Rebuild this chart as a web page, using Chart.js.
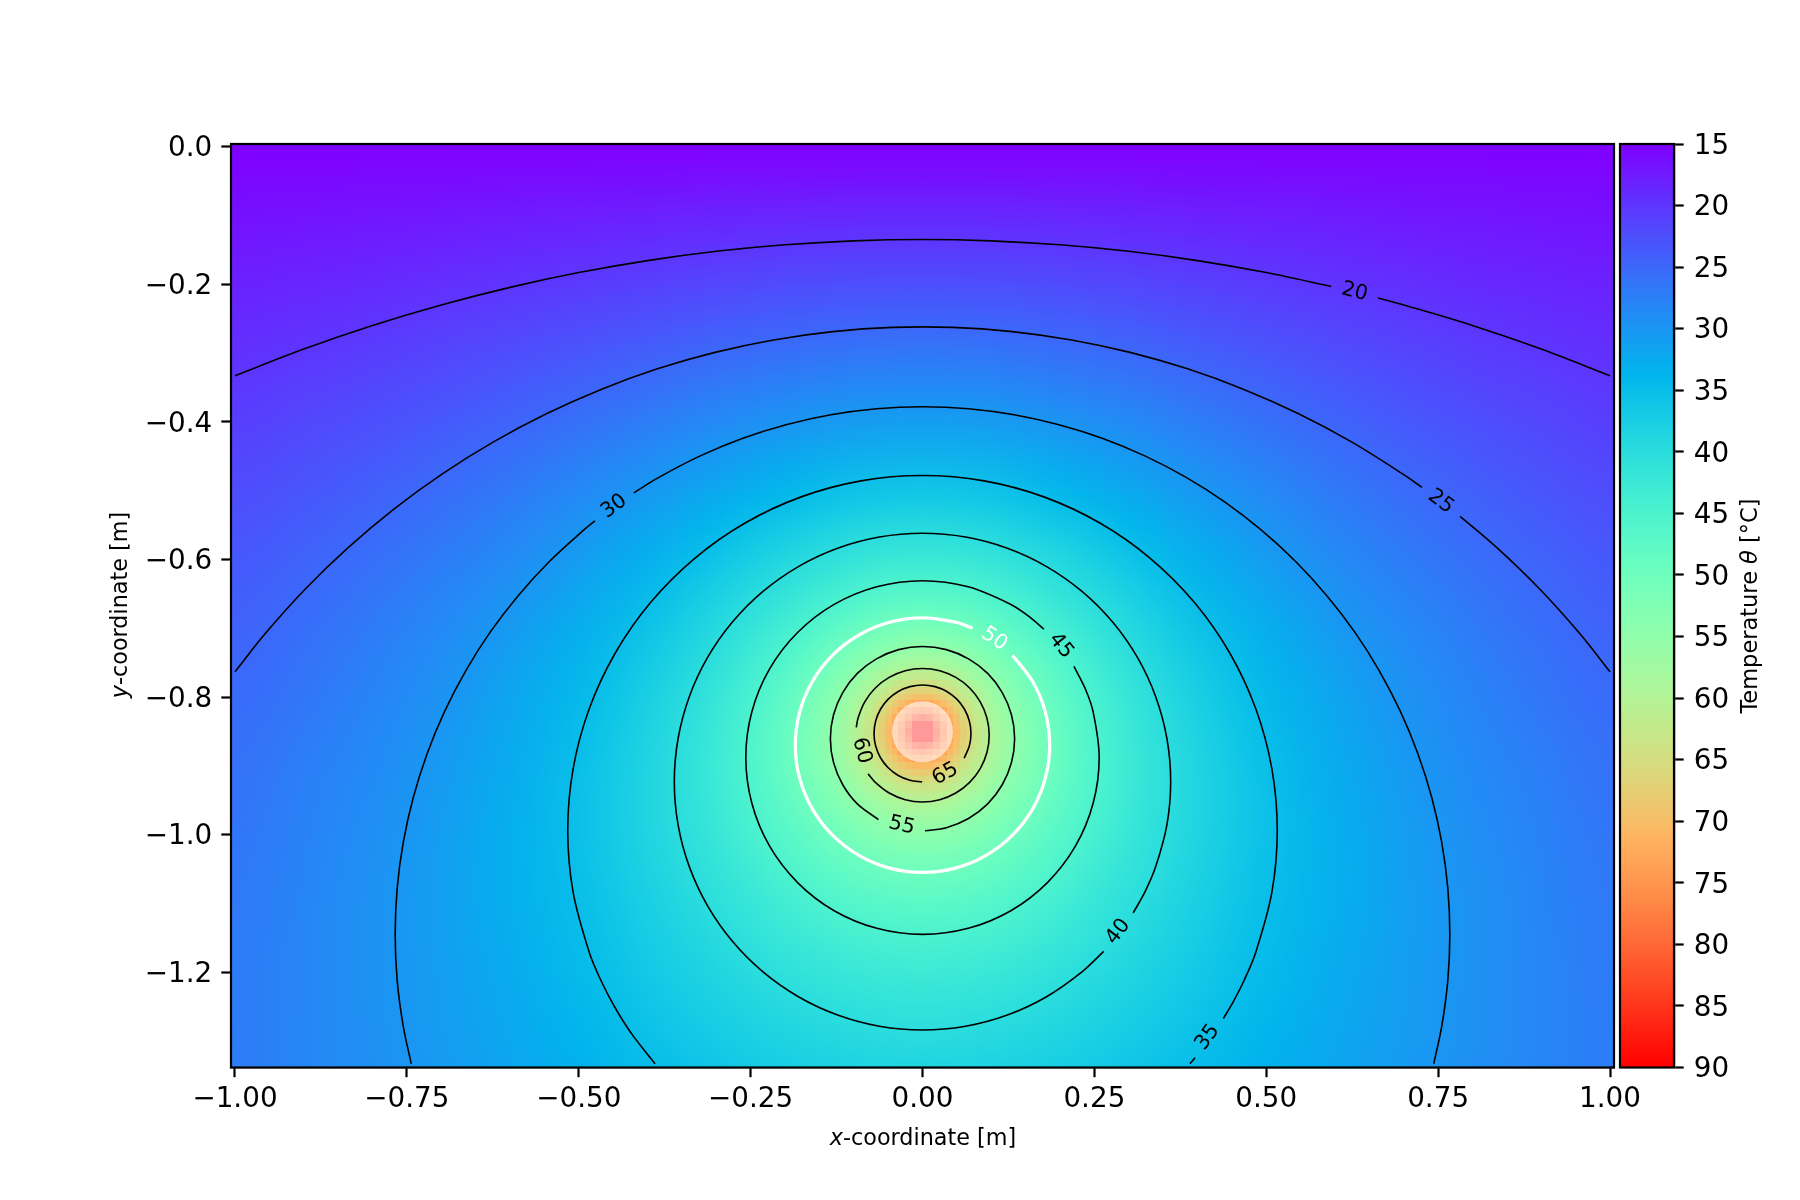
<!DOCTYPE html>
<html><head><meta charset="utf-8">
<style>html,body{margin:0;padding:0;background:#fff}canvas{position:absolute;left:0;top:0}</style>
<script src="https://cdn.jsdelivr.net/npm/chart.js@4/dist/chart.umd.min.js"></script>
</head><body>
<canvas id="main" width="1800" height="1200"></canvas>
<canvas id="cbar" width="1800" height="1200"></canvas>
<script>
// ---- axis ticks ----
const xTicks=[-1,-0.75,-0.5,-0.25,0,0.25,0.5,0.75,1];
const yTicks=[0,-0.2,-0.4,-0.6,-0.8,-1.0,-1.2];
const cbarTicks=[15,20,25,30,35,40,45,50,55,60,65,70,75,80,85,90];
const cbarRange=[15,90];
// ---- temperature estimates, column x>=0 only (field mirrors about x=0) ----
const coarseX=[0,0.1,0.2,0.3,0.4,0.5,0.6,0.7,0.8,0.9,1.0];
const coarseY=[0,-0.1,-0.2,-0.3,-0.4,-0.5,-0.6,-0.7,-0.8,-0.9,-1.0,-1.1,-1.2,-1.3,-1.4];
const coarseT=[
[15,15,15,15,15,15,15,15,15,15,15],
[18.7,18.7,18.5,18.3,18.0,17.7,17.5,17.2,17.0,16.7,16.5],
[22.5,22.4,22.1,21.6,21.1,20.5,19.9,19.4,18.9,18.5,18.1],
[26.6,26.4,25.8,25.1,24.1,23.2,22.3,21.5,20.8,20.1,19.5],
[31.0,30.7,29.8,28.6,27.2,25.9,24.6,23.5,22.5,21.7,20.9],
[36.2,35.6,34.1,32.2,30.3,28.5,26.8,25.4,24.2,23.1,22.2],
[42.6,41.5,38.9,35.9,33.2,30.8,28.8,27.1,25.7,24.5,23.4],
[51.7,48.8,43.8,39.3,35.7,32.9,30.5,28.6,27.0,25.6,24.4],
[69.9,57.3,47.8,41.8,37.6,34.4,31.8,29.7,28.0,26.5,25.3],
[70.8,58.2,48.7,42.7,38.4,35.2,32.6,30.5,28.7,27.3,26.0],
[54.4,51.6,46.5,42.0,38.4,35.4,33.0,31.0,29.2,27.8,26.5],
[47.2,46.1,43.4,40.4,37.6,35.1,33.0,31.1,29.5,28.1,26.8],
[42.8,42.2,40.6,38.6,36.5,34.5,32.6,31.0,29.5,28.2,27.0],
[39.6,39.2,38.2,36.8,35.3,33.7,32.1,30.7,29.4,28.2,27.1],
[37.1,36.9,36.2,35.2,34.0,32.8,31.5,30.3,29.1,28.1,27.1]];
const midX=[0,0.05,0.1,0.15,0.2,0.25,0.3,0.35];
const midY=[-0.5,-0.55,-0.6,-0.65,-0.7,-0.75,-0.8,-0.85,-0.9,-0.95,-1.0,-1.05,-1.1,-1.15,-1.2];
const midT=[
[36.2,36.0,35.6,35.0,34.1,33.2,32.3,31.3],
[39.2,39.0,38.4,37.5,36.4,35.3,34.1,32.9],
[42.6,42.3,41.5,40.3,38.9,37.4,35.9,34.5],
[46.6,46.2,44.9,43.2,41.3,39.5,37.7,36.1],
[51.7,50.8,48.8,46.3,43.8,41.4,39.3,37.4],
[58.5,56.8,53.1,49.4,46.0,43.2,40.7,38.6],
[69.9,64.5,57.3,51.9,47.8,44.5,41.8,39.5],
[90,70.4,59.5,53.2,48.7,45.3,42.5,40.1],
[70.8,65.4,58.2,52.8,48.7,45.4,42.7,40.4],
[60.4,58.6,55.0,51.2,47.8,45.0,42.5,40.4],
[54.4,53.6,51.6,49.1,46.5,44.2,42.0,40.1],
[50.4,49.9,48.6,46.9,45.0,43.1,41.3,39.6],
[47.2,46.9,46.1,44.9,43.4,41.9,40.4,39.0],
[44.8,44.6,44.0,43.1,42.0,40.8,39.5,38.3],
[42.8,42.6,42.2,41.5,40.6,39.6,38.6,37.5]];
const nearX=[0,0.02,0.04,0.06,0.08,0.1,0.12,0.14];
const nearY=[-0.71,-0.73,-0.75,-0.77,-0.79,-0.81,-0.83,-0.85,-0.87,-0.89,-0.91,-0.93,-0.95,-0.97,-0.99];
const nearT=[
[52.8,52.7,52.2,51.5,50.6,49.6,48.5,47.4],
[55.5,55.3,54.6,53.7,52.6,51.3,50.0,48.7],
[58.5,58.2,57.4,56.1,54.6,53.1,51.5,50.0],
[62.2,61.8,60.5,58.7,56.8,54.8,53.0,51.2],
[67.0,66.1,64.1,61.5,58.9,56.5,54.3,52.3],
[73.4,71.7,68.0,64.2,60.8,57.9,55.3,53.1],
[84.5,79.1,71.9,66.4,62.3,58.9,56.2,53.8],
[90,84.7,73.8,67.5,62.9,59.4,56.6,54.1],
[84.9,79.5,72.3,66.8,62.7,59.3,56.6,54.2],
[74.2,72.5,68.8,65.0,61.6,58.7,56.1,53.9],
[68.0,67.1,65.1,62.5,59.9,57.5,55.3,53.3],
[63.6,63.2,61.9,60.1,58.2,56.2,54.4,52.6],
[60.3,60.0,59.2,57.9,56.4,54.9,53.3,51.8],
[57.7,57.5,56.8,55.9,54.8,53.5,52.2,50.9],
[55.4,55.3,54.8,54.1,53.2,52.2,51.1,50.0]];
const coreX=[0,0.01,0.02,0.03,0.04,0.05,0.06,0.07,0.08];
const coreY=[-0.77,-0.78,-0.79,-0.8,-0.81,-0.82,-0.83,-0.84,-0.85,-0.86,-0.87,-0.88,-0.89,-0.9,-0.91,-0.92,-0.93];
const coreT=[
[62.2,62.1,61.8,61.2,60.5,59.7,58.7,57.8,56.8],
[64.4,64.3,63.8,63.1,62.2,61.2,60.1,59.0,57.9],
[67.0,66.8,66.1,65.2,64.1,62.8,61.5,60.2,58.9],
[69.8,69.5,68.7,67.4,65.9,64.4,62.8,61.3,59.9],
[73.4,73.0,71.7,69.9,68.0,66.0,64.2,62.4,60.8],
[78.1,77.2,75.2,72.6,70.0,67.6,65.4,63.4,61.6],
[84.5,82.8,79.1,75.3,71.9,69.0,66.4,64.2,62.3],
[95.5,90.1,82.9,77.4,73.3,69.9,67.2,64.8,62.7],
[100,95.6,84.7,78.4,73.8,70.3,67.5,65.0,62.9],
[95.7,90.3,83.1,77.6,73.5,70.1,67.4,65.0,62.9],
[84.9,83.2,79.5,75.7,72.3,69.4,66.8,64.6,62.7],
[78.7,77.8,75.8,73.2,70.6,68.2,66.0,64.0,62.2],
[74.2,73.8,72.5,70.7,68.8,66.8,65.0,63.2,61.6],
[70.8,70.5,69.7,68.4,66.9,65.4,63.8,62.3,60.9],
[68.1,67.9,67.2,66.3,65.2,63.9,62.6,61.3,60.0],
[65.7,65.6,65.1,64.4,63.5,62.5,61.4,60.3,59.2],
[63.7,63.6,63.3,62.7,62.0,61.2,60.2,59.3,58.3]];
// ---- contour arcs, [x,y] ----
const contour20a=[[-1,-0.3331],[-0.9,-0.2943],[-0.8,-0.26],[-0.7,-0.2302],[-0.6,-0.2046],[-0.5,-0.1831],[-0.4,-0.1657],[-0.3,-0.1522],[-0.2,-0.1427],[-0.1,-0.137],[0,-0.135],[0.1,-0.137],[0.2,-0.1427],[0.3,-0.1522],[0.4,-0.1657],[0.5,-0.1831],[0.5945,-0.2033]];
const contour20b=[[0.6625,-0.2201],[0.7,-0.2302],[0.8,-0.26],[0.9,-0.2943],[1,-0.3331]];
const contour25a=[[-1,-0.7633],[-0.956,-0.7078],[-0.8977,-0.643],[-0.835,-0.5826],[-0.7684,-0.5266],[-0.6979,-0.4754],[-0.624,-0.4292],[-0.5471,-0.3883],[-0.4675,-0.3529],[-0.3856,-0.323],[-0.3019,-0.2991],[-0.2167,-0.281],[-0.1304,-0.2689],[-0.0436,-0.2628],[0.0436,-0.2628],[0.1304,-0.2689],[0.2167,-0.281],[0.3019,-0.2991],[0.3856,-0.323],[0.4675,-0.3529],[0.5471,-0.3883],[0.624,-0.4292],[0.6979,-0.4754],[0.7265,-0.4953]];
const contour25b=[[0.782,-0.5374],[0.835,-0.5826],[0.8977,-0.643],[0.956,-0.7078],[1,-0.7633]];
const contour30a=[[-0.7436,-1.333],[-0.7553,-1.2782],[-0.7641,-1.2119],[-0.767,-1.145],[-0.7641,-1.0781],[-0.7553,-1.0118],[-0.7408,-0.9465],[-0.7207,-0.8827],[-0.6951,-0.8209],[-0.6642,-0.7615],[-0.6283,-0.705],[-0.5875,-0.652],[-0.5424,-0.6027],[-0.493,-0.5575],[-0.4764,-0.5439]];
const contour30b=[[-0.42,-0.5032],[-0.3835,-0.4808],[-0.3241,-0.4499],[-0.2623,-0.4242],[-0.1985,-0.4042],[-0.1332,-0.3897],[-0.0669,-0.3809],[0,-0.378],[0.0669,-0.3809],[0.1332,-0.3897],[0.1985,-0.4042],[0.2623,-0.4242],[0.3241,-0.4499],[0.3835,-0.4808],[0.44,-0.5167],[0.493,-0.5575],[0.5424,-0.6027],[0.5875,-0.652],[0.6283,-0.705],[0.6642,-0.7615],[0.6951,-0.8209],[0.7207,-0.8827],[0.7408,-0.9465],[0.7553,-1.0118],[0.7641,-1.0781],[0.767,-1.145],[0.7641,-1.2119],[0.7553,-1.2782],[0.7436,-1.333]];
const contour35a=[[-0.389,-1.333],[-0.4227,-1.29],[-0.4469,-1.252],[-0.4677,-1.2121],[-0.4849,-1.1705],[-0.5082,-1.0836],[-0.516,-0.994],[-0.5082,-0.9044],[-0.4849,-0.8175],[-0.4469,-0.736],[-0.3953,-0.6623],[-0.3317,-0.5987],[-0.258,-0.5471],[-0.1765,-0.5091],[-0.0896,-0.4858],[0,-0.478],[0.0896,-0.4858],[0.1765,-0.5091],[0.258,-0.5471],[0.3317,-0.5987],[0.3953,-0.6623],[0.4469,-0.736],[0.4849,-0.8175],[0.5082,-0.9044],[0.516,-0.994],[0.5082,-1.0836],[0.4849,-1.1705],[0.4677,-1.2121],[0.4513,-1.2442],[0.4376,-1.2674]];
const contour35b=[[0.3964,-1.3243],[0.389,-1.333]];
const contour40=[[0.2635,-1.1698],[0.232,-1.1995],[0.1805,-1.2356],[0.1235,-1.2622],[0.0627,-1.2785],[0,-1.284],[-0.0627,-1.2785],[-0.1235,-1.2622],[-0.1805,-1.2356],[-0.232,-1.1995],[-0.2765,-1.155],[-0.3126,-1.1035],[-0.3392,-1.0465],[-0.3555,-0.9857],[-0.361,-0.923],[-0.3555,-0.8603],[-0.3392,-0.7995],[-0.3126,-0.7425],[-0.2765,-0.691],[-0.232,-0.6465],[-0.1805,-0.6104],[-0.1235,-0.5838],[-0.0627,-0.5675],[0,-0.562],[0.0627,-0.5675],[0.1235,-0.5838],[0.1805,-0.6104],[0.232,-0.6465],[0.2765,-0.691],[0.3126,-0.7425],[0.3392,-0.7995],[0.3555,-0.8603],[0.361,-0.923],[0.3555,-0.9857],[0.3392,-1.0465],[0.3245,-1.0813],[0.3065,-1.1138]];
const contour45=[[0.2203,-0.7556],[0.2366,-0.7876],[0.2482,-0.8215],[0.257,-0.888],[0.2482,-0.9545],[0.2226,-1.0165],[0.1817,-1.0697],[0.1285,-1.1106],[0.0665,-1.1362],[0,-1.145],[-0.0665,-1.1362],[-0.1285,-1.1106],[-0.1817,-1.0697],[-0.2226,-1.0165],[-0.2482,-0.9545],[-0.257,-0.888],[-0.2482,-0.8215],[-0.2226,-0.7595],[-0.1817,-0.7063],[-0.1285,-0.6654],[-0.0665,-0.6398],[0,-0.631],[0.0665,-0.6398],[0.1285,-0.6654],[0.1547,-0.6828],[0.1766,-0.7013]];
const contour50=[[0.1308,-0.7392],[0.1602,-0.7775],[0.1787,-0.8221],[0.185,-0.87],[0.1787,-0.9179],[0.1602,-0.9625],[0.1308,-1.0008],[0.0925,-1.0302],[0.0479,-1.0487],[0,-1.055],[-0.0479,-1.0487],[-0.0925,-1.0302],[-0.1308,-1.0008],[-0.1602,-0.9625],[-0.1787,-0.9179],[-0.185,-0.87],[-0.1787,-0.8221],[-0.1602,-0.7775],[-0.1308,-0.7392],[-0.0925,-0.7098],[-0.0479,-0.6913],[0,-0.685],[0.0479,-0.6913],[0.0729,-0.70]];
const contour55=[[-0.0641,-0.9782],[-0.0948,-0.9553],[-0.116,-0.9275],[-0.1294,-0.8952],[-0.134,-0.8605],[-0.1294,-0.8258],[-0.116,-0.7935],[-0.0948,-0.7657],[-0.067,-0.7445],[-0.0347,-0.7311],[0,-0.7265],[0.0347,-0.7311],[0.067,-0.7445],[0.0948,-0.7657],[0.116,-0.7935],[0.1294,-0.8258],[0.134,-0.8605],[0.1294,-0.8952],[0.116,-0.9275],[0.0948,-0.9553],[0.067,-0.9765],[0.0347,-0.9899],[0.0037,-0.9944]];
const contour60=[[-0.0963,-0.844],[-0.0937,-0.8304],[-0.084,-0.807],[-0.0686,-0.7869],[-0.0485,-0.7715],[-0.0251,-0.7618],[0,-0.7585],[0.0251,-0.7618],[0.0485,-0.7715],[0.0686,-0.7869],[0.084,-0.807],[0.0937,-0.8304],[0.097,-0.8555],[0.0937,-0.8806],[0.084,-0.904],[0.0686,-0.9241],[0.0485,-0.9395],[0.0251,-0.9492],[0,-0.9525],[-0.0251,-0.9492],[-0.0485,-0.9395],[-0.0686,-0.9241],[-0.0791,-0.9117]];
const contour65=[[-0.0005,-0.9235],[-0.0182,-0.9211],[-0.0353,-0.9141],[-0.0499,-0.9029],[-0.0611,-0.8883],[-0.0681,-0.8712],[-0.0705,-0.853],[-0.0681,-0.8348],[-0.0611,-0.8178],[-0.0499,-0.8031],[-0.0353,-0.7919],[-0.0182,-0.7849],[0,-0.7825],[0.0182,-0.7849],[0.0353,-0.7919],[0.0499,-0.8031],[0.0611,-0.8178],[0.0681,-0.8348],[0.0705,-0.853],[0.0681,-0.8712],[0.0606,-0.889]];
// contour labels: text, x, y, rotation in degrees
const contourLabels=[["20",0.6285,-0.2113,13.9],["25",0.7538,-0.516,37.2],["30",-0.4484,-0.523,-35.8],["35",0.4148,-1.2946,-54.1],["40",0.2846,-1.1412,-52.5],["45",0.2012,-0.7258,51.2],["50",0.1043,-0.7158,34.1],["55",-0.0303,-0.9869,13.5],["60",-0.0884,-0.878,75.7],["65",0.0332,-0.9119,-29.4]];
const sourceDisc=[[0,-0.8505]];

const FONT='"DejaVu Sans"';
const mirrorRow=r=>[...r.slice(1).reverse(),...r];
const mirrorX=a=>[...a.slice(1).reverse().map(v=>-v),...a];
const cmap=v=>{const t=Math.min(1,Math.max(0,(v-15)/75));return [Math.min(1,Math.abs(2*t-0.5))*255,Math.sin(Math.PI*t)*255,Math.cos(Math.PI*t/2)*255];};
const css=c=>`rgb(${c.map(Math.round).join(',')})`;
const heatLayers=[
 {xs:coarseX,ys:coarseY,t:coarseT,base:true},
 {xs:midX,ys:midY,t:midT},
 {xs:nearX,ys:nearY,t:nearT},
 {xs:coreX,ys:coreY,t:coreT,pixel:true}];
const heatPlugin={id:'heat',beforeDatasetsDraw(chart){
 const {ctx,chartArea:a,scales:{x,y}}=chart;
 ctx.save();ctx.beginPath();ctx.rect(a.left,a.top,a.right-a.left,a.bottom-a.top);ctx.clip();
 for(const L of heatLayers){
  const xs=mirrorX(L.xs),rows=L.t.map(mirrorRow),nx=xs.length,ny=L.ys.length;
  const off=document.createElement('canvas');off.width=nx;off.height=ny;
  const oc=off.getContext('2d'),img=oc.createImageData(nx,ny);
  rows.forEach((r,j)=>r.forEach((v,i)=>{const c=cmap(v),k=4*(j*nx+i);img.data[k]=c[0];img.data[k+1]=c[1];img.data[k+2]=c[2];img.data[k+3]=255;}));
  oc.putImageData(img,0,0);
  const x0=x.getPixelForValue(xs[0]),x1=x.getPixelForValue(xs[nx-1]),y0=y.getPixelForValue(L.ys[0]),y1=y.getPixelForValue(L.ys[ny-1]);
  const dx=(x1-x0)/(nx-1),dy=(y1-y0)/(ny-1);
  ctx.save();
  if(!L.base&&!L.pixel){ctx.beginPath();ctx.rect(x0,y0,x1-x0,y1-y0);ctx.clip();}
  ctx.imageSmoothingEnabled=!L.pixel;ctx.imageSmoothingQuality='high';
  ctx.drawImage(off,x0-dx/2,y0-dy/2,dx*nx,dy*ny);
  ctx.restore();
 }
 ctx.restore();
}};
const framePlugin={id:'frame',afterDraw(chart){
 const {ctx,chartArea:a}=chart;ctx.save();ctx.strokeStyle='#000';ctx.lineWidth=2.2;
 ctx.strokeRect(a.left,a.top,a.right-a.left,a.bottom-a.top);ctx.restore();
}};
const drawMixed=(ctx,cx,cy,rot,parts,size)=>{
 ctx.save();ctx.translate(cx,cy);ctx.rotate(rot);ctx.textBaseline='middle';ctx.textAlign='left';ctx.fillStyle='#000';
 let w=0;for(const p of parts){ctx.font=`${p[1]?'italic ':''}${size}px ${FONT}`;w+=ctx.measureText(p[0]).width;}
 let pos=-w/2;for(const p of parts){ctx.font=`${p[1]?'italic ':''}${size}px ${FONT}`;ctx.fillText(p[0],pos,0);pos+=ctx.measureText(p[0]).width;}
 ctx.restore();
};
const labelPlugin={id:'labels',afterDatasetsDraw(chart){
 const {ctx,scales:{x,y}}=chart;
 ctx.save();ctx.font=`20.6px ${FONT}`;ctx.textAlign='center';ctx.textBaseline='middle';
 for(const [s,vx,vy,rot] of contourLabels){
  ctx.save();ctx.translate(x.getPixelForValue(vx),y.getPixelForValue(vy));ctx.rotate(rot*Math.PI/180);
  ctx.fillStyle=s==='50'?'#fff':'#000';ctx.fillText(s,0,0);ctx.restore();
 }
 ctx.restore();
 drawMixed(ctx,923,1139,0,[['x',true],['-coordinate [m]',false]],22.3);
 drawMixed(ctx,121,605,-Math.PI/2,[['y',true],['-coordinate [m]',false]],22.3);
}};
const line=(arc,color='#000',w=1.6)=>({type:'scatter',showLine:true,data:arc.map(p=>({x:p[0],y:p[1]})),borderColor:color,borderWidth:w,pointRadius:0,tension:0.335,fill:false});
const fmtX=v=>(v<0?'\u2212':'')+Math.abs(v).toFixed(2);
const fmtY=v=>(v<-1e-9?'\u2212':'')+Math.abs(v).toFixed(1);
const axis=(ticks,fmt,pad,lab,extra)=>Object.assign({type:'linear',
 afterBuildTicks:s=>{s.ticks=ticks.map(v=>({value:v}));},
 grid:{drawOnChartArea:false,drawTicks:true,tickLength:9.7,tickWidth:2.2,tickColor:'#000'},
 border:{display:true,color:'#000',width:2.2},
 ticks:{callback:fmt,autoSkip:false,maxRotation:0,minRotation:0,padding:pad,labelOffset:lab,color:'#000',font:{family:'DejaVu Sans',size:27.8}}},extra);

new Chart(document.getElementById('main'),{
 type:'scatter',
 data:{datasets:[
  {type:'scatter',data:sourceDisc.map(p=>({x:p[0],y:p[1]})),pointRadius:30.5,pointBackgroundColor:'rgba(255,255,255,0.6)',pointBorderWidth:0,showLine:false},
  line(contour20a),line(contour20b),line(contour25a),line(contour25b),line(contour30a),line(contour30b),
  line(contour35a),line(contour35b),line(contour40),line(contour45),line(contour50,'#fff',3.3),
  line(contour55),line(contour60),line(contour65)]},
 options:{responsive:false,animation:false,devicePixelRatio:1,
  layout:{padding:{left:0,top:144,right:186,bottom:0}},
  plugins:{legend:{display:false},tooltip:{enabled:false}},
  scales:{
   x:axis(xTicks,fmtX,6,0,{min:-1.0058,max:1.0058,position:'bottom',afterFit:s=>{s.height=132.5;}}),
   y:axis(yTicks,fmtY,9,2.5,{min:-1.3385,max:0.0038,position:'left',afterFit:s=>{s.width=231;}})}},
 plugins:[heatPlugin,labelPlugin,framePlugin]});

const cbarTitle={id:'cbarTitle',afterDraw(chart){
 const {ctx,chartArea:a}=chart;ctx.save();ctx.strokeStyle='#000';ctx.lineWidth=2.2;
 ctx.strokeRect(a.left,a.top,a.right-a.left,a.bottom-a.top);ctx.restore();
 drawMixed(ctx,1751,606,-Math.PI/2,[['Temperature ',false],['\u03b8',true],[' [\u00b0C]',false]],22.5);
}};
new Chart(document.getElementById('cbar'),{
 type:'bar',
 data:{labels:['\u03b8'],datasets:[{data:[cbarRange],barPercentage:1,categoryPercentage:1,borderWidth:0,
  backgroundColor:c=>{const a=c.chart.chartArea;if(!a)return '#000';
   const y=c.chart.scales.y,g=c.chart.ctx.createLinearGradient(0,y.getPixelForValue(cbarRange[0]),0,y.getPixelForValue(cbarRange[1]));
   for(let i=0;i<=60;i++)g.addColorStop(i/60,css(cmap(cbarRange[0]+(cbarRange[1]-cbarRange[0])*i/60)));
   return g;}}]},
 options:{responsive:false,animation:false,devicePixelRatio:1,
  layout:{padding:{left:1620,top:144,right:0,bottom:132.5}},
  plugins:{legend:{display:false},tooltip:{enabled:false}},
  scales:{
   x:{display:false},
   y:axis(cbarTicks,v=>String(v),10,2.5,{min:15,max:90,reverse:true,position:'right',afterFit:s=>{s.width=126;}})}},
 plugins:[cbarTitle]});
</script>
</body></html>
